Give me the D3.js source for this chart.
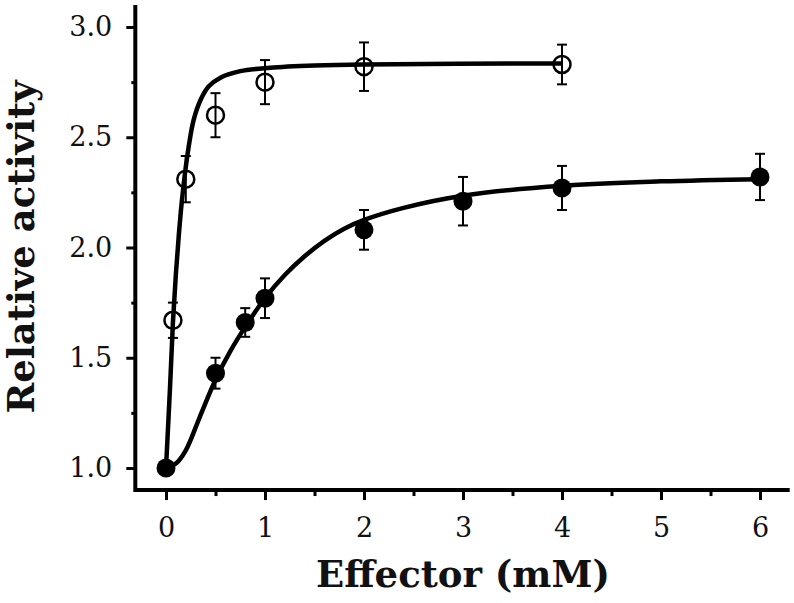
<!DOCTYPE html>
<html>
<head>
<meta charset="utf-8">
<script src="https://cdn.jsdelivr.net/npm/d3@7"></script>
<style>
  body { margin: 0; background: #fff; }
  svg { display: block; }
  .tick text { font-family: "DejaVu Serif", serif; font-size: 27px; fill: #111; }
  .title { font-family: "DejaVu Serif", serif; font-weight: bold; font-size: 37px; fill: #111; }
</style>
</head>
<body>
<div id="chart"></div>
<script>
// tick labels
var xTicks = [0, 1, 2, 3, 4, 5, 6];
var xMinor = [0.5, 1.5, 2.5, 3.5, 4.5, 5.5];
var yTicks = [1.0, 1.5, 2.0, 2.5, 3.0];
var yMinor = [1.25, 1.75, 2.25, 2.75];

// open circles: effector conc, relative activity, error
var openX = [0.07, 0.2, 0.5, 1, 2, 4];
var openY = [1.67, 2.31, 2.60, 2.75, 2.82, 2.83];
var openErr = [0.08, 0.105, 0.1, 0.1, 0.11, 0.09];

// filled circles
var fillX = [0, 0.5, 0.8, 1, 2, 3, 4, 6];
var fillY = [1.0, 1.43, 1.66, 1.77, 2.08, 2.21, 2.27, 2.32];
var fillErr = [0, 0.07, 0.065, 0.09, 0.09, 0.11, 0.1, 0.105];

// fitted curves
var openCurveX = [0, 0.04, 0.07, 0.1, 0.13, 0.16, 0.19, 0.23, 0.28, 0.35, 0.43, 0.55, 0.75, 1.05, 1.5, 2, 4];
var openCurveY = [1.0, 1.36, 1.66, 1.88, 2.06, 2.21, 2.33, 2.46, 2.58, 2.67, 2.73, 2.77, 2.80, 2.815, 2.825, 2.83, 2.835];
var fillCurveX = [0, 0.1, 0.2, 0.34, 0.5, 0.65, 0.8, 1.0, 1.2, 1.4, 1.6, 1.8, 2.0, 2.4, 3, 4, 5, 6];
var fillCurveY = [1.0, 1.02, 1.08, 1.23, 1.40, 1.53, 1.64, 1.77, 1.875, 1.96, 2.03, 2.085, 2.125, 2.18, 2.235, 2.28, 2.30, 2.31];

var width = 794, height = 603;

var svg = d3.select('#chart').append('svg')
    .attr('width', width)
    .attr('height', height);

var x = d3.scaleLinear().domain([0, 6]).range([166, 760]);
var y = d3.scaleLinear().domain([1, 3]).range([468, 27]);

// axis lines (extend past the ticks like the original)
svg.append('line')
    .attr('x1', x(-0.31)).attr('x2', x(6.3))
    .attr('y1', y(0.9)).attr('y2', y(0.9))
    .attr('stroke', '#000').attr('stroke-width', 4);
svg.append('line')
    .attr('x1', x(-0.31)).attr('x2', x(-0.31))
    .attr('y1', y(0.9) + 2).attr('y2', y(3.1))
    .attr('stroke', '#000').attr('stroke-width', 4);

// x axis
var xAxis = svg.append('g')
    .attr('transform', 'translate(0,' + y(0.9) + ')')
    .call(d3.axisBottom(x).tickValues(xTicks).tickFormat(d3.format('d')).tickSize(10).tickPadding(18));
xAxis.select('.domain').remove();
xAxis.selectAll('.tick line').attr('stroke-width', 3);

svg.append('g')
    .attr('transform', 'translate(0,' + y(0.9) + ')')
    .call(d3.axisBottom(x).tickValues(xMinor).tickSize(6).tickFormat(''))
    .call(g => g.select('.domain').remove())
    .selectAll('.tick line').attr('stroke-width', 3);

// y axis
var yAxis = svg.append('g')
    .attr('transform', 'translate(' + x(-0.31) + ',0)')
    .call(d3.axisLeft(y).tickValues(yTicks).tickFormat(d3.format('.1f')).tickSize(9).tickPadding(14));
yAxis.select('.domain').remove();
yAxis.selectAll('.tick line').attr('stroke-width', 3);

svg.append('g')
    .attr('transform', 'translate(' + x(-0.31) + ',0)')
    .call(d3.axisLeft(y).tickValues(yMinor).tickSize(4).tickFormat(''))
    .call(g => g.select('.domain').remove())
    .selectAll('.tick line').attr('stroke-width', 3);

// titles
svg.append('text')
    .attr('class', 'title')
    .attr('x', 463)
    .attr('y', 587)
    .attr('text-anchor', 'middle')
    .text('Effector (mM)');

svg.append('text')
    .attr('class', 'title')
    .attr('transform', 'translate(34,' + 247 + ') rotate(-90)')
    .attr('text-anchor', 'middle')
    .text('Relative activity');

// curves
var line = d3.line()
    .x(d => x(d[0]))
    .y(d => y(d[1]))
    .curve(d3.curveCatmullRom.alpha(0.5));

var openCurve = openCurveX.map((v, i) => [v, openCurveY[i]]);
var fillCurve = fillCurveX.map((v, i) => [v, fillCurveY[i]]);

svg.append('path')
    .datum(openCurve)
    .attr('d', line)
    .attr('fill', 'none')
    .attr('stroke', '#000')
    .attr('stroke-width', 4.5);

svg.append('path')
    .datum(fillCurve)
    .attr('d', line)
    .attr('fill', 'none')
    .attr('stroke', '#000')
    .attr('stroke-width', 4.5);

// error bars
function errorBars(xs, ys, es) {
    var data = xs.map((v, i) => ({x: v, y: ys[i], e: es[i]})).filter(d => d.e > 0);
    var g = svg.append('g').attr('stroke', '#000').attr('stroke-width', 2);
    g.selectAll('.bar')
        .data(data).enter().append('line')
        .attr('x1', d => x(d.x)).attr('x2', d => x(d.x))
        .attr('y1', d => y(d.y - d.e)).attr('y2', d => y(d.y + d.e));
    g.selectAll('.capTop')
        .data(data).enter().append('line')
        .attr('x1', d => x(d.x) - 5).attr('x2', d => x(d.x) + 5)
        .attr('y1', d => y(d.y + d.e)).attr('y2', d => y(d.y + d.e));
    g.selectAll('.capBot')
        .data(data).enter().append('line')
        .attr('x1', d => x(d.x) - 5).attr('x2', d => x(d.x) + 5)
        .attr('y1', d => y(d.y - d.e)).attr('y2', d => y(d.y - d.e));
}
errorBars(openX, openY, openErr);
errorBars(fillX, fillY, fillErr);

// markers
svg.selectAll('.open')
    .data(openX.map((v, i) => [v, openY[i]]))
    .enter().append('circle')
    .attr('class', 'open')
    .attr('cx', d => x(d[0]))
    .attr('cy', d => y(d[1]))
    .attr('r', 8.5)
    .attr('fill', 'none')
    .attr('stroke', '#000')
    .attr('stroke-width', 2.5);

svg.selectAll('.filled')
    .data(fillX.map((v, i) => [v, fillY[i]]))
    .enter().append('circle')
    .attr('class', 'filled')
    .attr('cx', d => x(d[0]))
    .attr('cy', d => y(d[1]))
    .attr('r', 9.5)
    .attr('fill', '#000');
</script>
</body>
</html>
